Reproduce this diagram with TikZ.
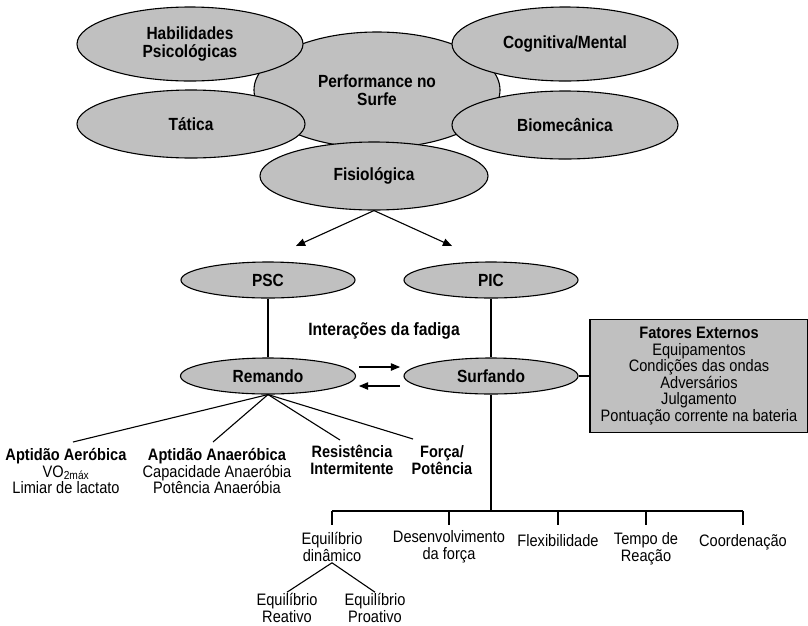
\documentclass[tikz,border=0pt]{standalone}
\usepackage{fontspec}
\setmainfont[FakeStretch = 0.88]{Liberation Sans}
\usetikzlibrary{arrows,shapes.geometric}
\definecolor{ovalgray}{RGB}{192,192,192}

\begin{document}
\begin{tikzpicture}[x = 1pt, y = -1pt]
\useasboundingbox (0, 0) rectangle (808, 625);
%\draw[very thin, color = gray](0, 0) grid[step = 50] (808, 625);
\tikzstyle{oval} = [draw, ellipse, fill = ovalgray, line width = 1.1pt, inner sep = 0pt,
  align = center, font = \bfseries\fontsize{17.6}{18.5}\selectfont];
\tikzstyle{txt} = [align = center, inner sep = 1pt, font = \fontsize{16.6}{16.8}\selectfont];
\tikzstyle{line} = [draw, line width = 1.1pt]
\tikzstyle{arr} = [draw, line width = 1.1pt, -triangle 45]
% the performance cluster
\node [oval, minimum width = 246pt, minimum height = 116pt] at (377, 90) (perf) {Performance no\\Surfe};
\node [oval, minimum width = 226pt, minimum height = 74pt] at (190, 44) (hab) {Habilidades\\Psicológicas};
\node [oval, minimum width = 226pt, minimum height = 74pt] at (565, 44) (cog) {Cognitiva/Mental};
\node [oval, minimum width = 228pt, minimum height = 68pt] at (191, 124) (tat) {Tática};
\node [oval, minimum width = 226pt, minimum height = 68pt] at (565, 125) (bio) {Biomecânica};
\node [oval, minimum width = 228pt, minimum height = 68pt] at (374, 176) (fis) {Fisiológica};
% PSC / PIC
\node [oval, minimum width = 174pt, minimum height = 36pt] at (268, 280) (psc) {PSC};
\node [oval, minimum width = 174pt, minimum height = 36pt] at (491, 280) (pic) {PIC};
\node [oval, minimum width = 175pt, minimum height = 36pt] at (268, 376) (rem) {Remando};
\node [oval, minimum width = 174pt, minimum height = 36pt] at (491, 376) (surf) {Surfando};
\node at (384, 331) [font = \bfseries\fontsize{17.8}{18}\selectfont] (fad) {Interações da fadiga};
\node [draw, fill = ovalgray, line width = 1.1pt, minimum width = 218pt, minimum height = 113pt,
  txt, font = \fontsize{16.6}{16.6}\selectfont] at (699, 376) (ext)
  {\textbf{Fatores Externos}\\Equipamentos\\Condições das ondas\\Adversários\\Julgamento\\Pontuação corrente na bateria};
\coordinate (p1) at (296, 246);
\coordinate (p2) at (452, 246);
\path [arr] (fis.south) -- (p1);
\path [arr] (fis.south) -- (p2);
\path [line] (psc) -- (rem);
\path [line] (pic) -- (surf);
\path [line] (surf) -- (ext);
\coordinate (a1) at (359, 367);
\coordinate (a2) at (400, 367);
\coordinate (a3) at (400, 386);
\coordinate (a4) at (359, 386);
\path [arr] (a1) -- (a2);
\path [arr] (a3) -- (a4);
% Remando branches
\node [txt] at (66, 471) (aer) {\textbf{Aptidão Aeróbica}\\VO\textsubscript{2máx}\\Limiar de lactato};
\node [txt] at (217, 471) (anaer) {\textbf{Aptidão Anaeróbica}\\Capacidade Anaeróbia\\Potência Anaeróbia};
\node [txt, font = \bfseries\fontsize{16.5}{16.8}\selectfont] at (352, 460) (res) {Resistência\\Intermitente};
\node [txt, font = \bfseries\fontsize{16.5}{16.8}\selectfont] at (442, 460) (forca) {Força/\\Potência};
\coordinate (f1) at (73, 442);
\coordinate (f2) at (213, 442);
\coordinate (f3) at (340, 440);
\coordinate (f4) at (413, 439);
\foreach \f in {f1, f2, f3, f4}
  \path [line] (rem.south) -- (\f);
% Surfando branches
\coordinate (bar) at (491, 511);
\node [txt] at (332, 547) (eqd) {Equilíbrio\\dinâmico};
\node [txt] at (449, 547) (desf) {Desenvolvimento\\da força};
\node [txt] at (558, 541) (flex) {Flexibilidade};
\node [txt] at (646, 549) (tempo) {Tempo de\\Reação};
\node [txt] at (743, 542) (coord) {Coordenação};
\node [txt] at (287, 608) (reat) {Equilíbrio\\Reativo};
\node [txt] at (375, 608) (proat) {Equilíbrio\\Proativo};
\path [line] (surf.south) -- (bar);
\path [line] (bar -| eqd) -- (bar -| coord);
\foreach \n in {eqd, desf, flex, tempo, coord}
  \path [line] (bar -| \n) -- ++(0, 14);
\path [line] (eqd.south) -- (reat.north);
\path [line] (eqd.south) -- (proat.north);
\end{tikzpicture}
\end{document}
